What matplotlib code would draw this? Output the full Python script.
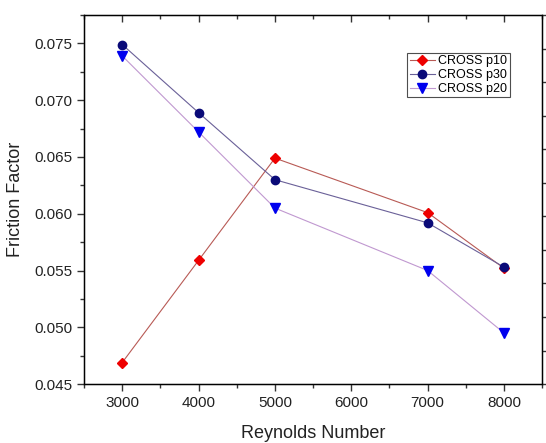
import matplotlib
matplotlib.use("Agg")
import matplotlib.pyplot as plt
from matplotlib.ticker import MultipleLocator, NullFormatter

plt.rcParams["font.family"] = ["Liberation Sans", "DejaVu Sans"]

reynolds = [3000, 4000, 5000, 7000, 8000]
cross_p10 = [0.0469, 0.0559, 0.0649, 0.0601, 0.0552]
cross_p30 = [0.0749, 0.0689, 0.0630, 0.0592, 0.0553]
cross_p20 = [0.0739, 0.0672, 0.0605, 0.0550, 0.0495]

fig = plt.figure(figsize=(5.46, 4.43), dpi=100)
ax = fig.add_axes([0.154, 0.133, 0.839, 0.833])

ax.plot(reynolds, cross_p10, color="#b85a55", lw=0.8, marker="D", ms=5.5,
        mfc="#ee0000", mec="#ee0000", label="CROSS p10")
ax.plot(reynolds, cross_p30, color="#6a6098", lw=0.8, marker="o", ms=6,
        mfc="#0a0a78", mec="#0a0a78", label="CROSS p30")
ax.plot(reynolds, cross_p20, color="#c098d0", lw=0.8, marker="v", ms=6.5,
        mfc="#0000ee", mec="#0000ee", label="CROSS p20")

ax.set_xlim(2500, 8500)
ax.set_ylim(0.045, 0.0775)
ax.xaxis.set_major_locator(MultipleLocator(1000))
ax.xaxis.set_minor_locator(MultipleLocator(500))
ax.yaxis.set_major_locator(MultipleLocator(0.005))
ax.yaxis.set_minor_locator(MultipleLocator(0.0025))
ax.yaxis.set_major_formatter(plt.FormatStrFormatter("%.3f"))

for side in ax.spines.values():
    side.set_linewidth(1.0)
    side.set_color("#333333")

ax.tick_params(axis="both", which="both", direction="out", colors="#333333",
               labelsize=11, labelcolor="#222222")
ax.tick_params(which="major", length=5, width=1)
ax.tick_params(which="minor", length=3, width=1)

# top axis: same ticks as bottom, pointing inward, no labels
top = ax.twiny()
top.set_xlim(ax.get_xlim())
top.xaxis.set_major_locator(MultipleLocator(1000))
top.xaxis.set_minor_locator(MultipleLocator(500))
top.xaxis.set_major_formatter(NullFormatter())
top.tick_params(axis="x", which="both", direction="in", colors="#333333", width=1)
top.tick_params(axis="x", which="major", length=5)
top.tick_params(axis="x", which="minor", length=3)

# right axis: evenly spaced outward ticks, no labels
right = ax.twinx()
right.set_ylim(0, 11)
right.yaxis.set_major_locator(MultipleLocator(1))
right.yaxis.set_major_formatter(NullFormatter())
right.tick_params(axis="y", direction="out", length=3, width=1, colors="#333333")

ax.set_xlabel("Reynolds Number", fontsize=13, color="#222222", labelpad=11)
ax.set_ylabel("Friction Factor", fontsize=13, color="#222222", labelpad=7)

leg = ax.legend(loc="upper left", bbox_to_anchor=(0.705, 0.898), fontsize=9,
                frameon=True, fancybox=False, edgecolor="#222222",
                borderpad=0.2, labelspacing=0.15, handlelength=2.0,
                handletextpad=0.3, borderaxespad=0)
leg.get_frame().set_linewidth(0.8)

fig.savefig("out.png", dpi=100)
